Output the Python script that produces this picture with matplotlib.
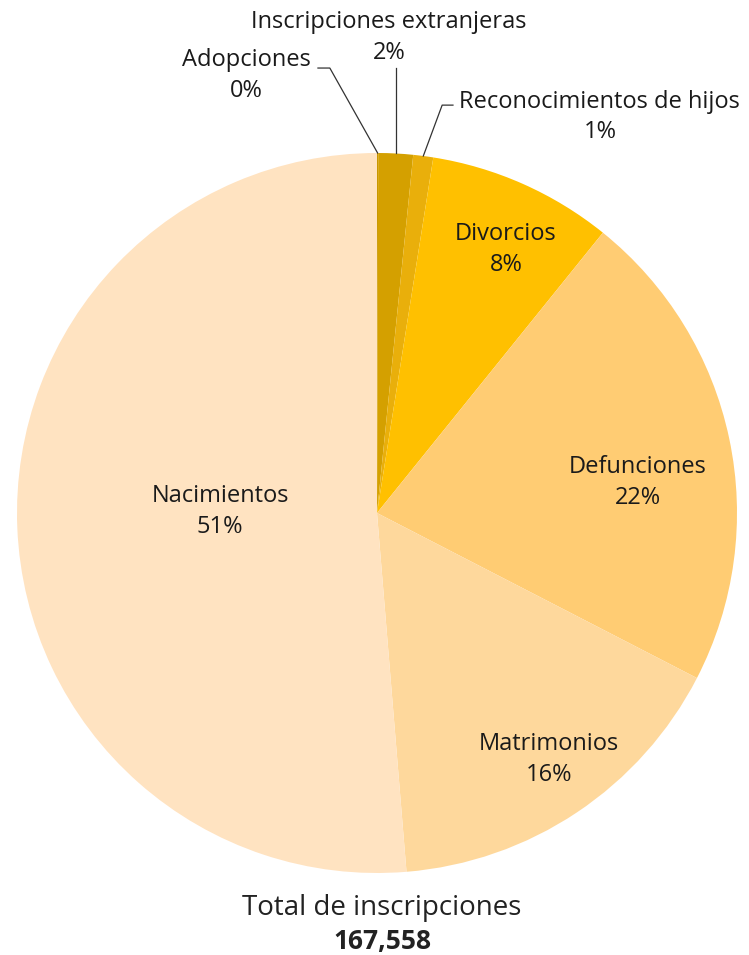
import numpy as np
import matplotlib.pyplot as plt

plt.rcParams['font.family'] = ['Open Sans', 'DejaVu Sans']

# data, clockwise from the top
categorias = ['Adopciones', 'Inscripciones extranjeras', 'Reconocimientos de hijos',
              'Divorcios', 'Defunciones', 'Matrimonios', 'Nacimientos']
valores = [90, 2600, 1500, 13900, 36500, 27000, 85968]
colores = ['#C99700', '#D4A000', '#E9AF0B', '#FFC000', '#FFCC73', '#FED89C', '#FFE3C1']
total = 167558

fig = plt.figure(figsize=(7.49, 9.55), dpi=100)
W, H = 749, 955
cx, cy, r = 377, 513, 360
ax = fig.add_axes([(cx - r) / W, (H - cy - r) / H, 2 * r / W, 2 * r / H])

wedges, _ = ax.pie(valores, colors=colores, startangle=90, counterclock=False,
                   radius=1, wedgeprops=dict(linewidth=0))
ax.set_xlim(-1, 1)
ax.set_ylim(-1, 1)
ax.set_aspect('equal')
ax.axis('off')

pct = [round(v / sum(valores) * 100) for v in valores]
fs = 17
gap = 0.043   # half the distance between name line and percent line
tc = '#1a1a1a'

# label places (axes data units, pie radius = 1)
pos = {'Divorcios': (0.358, 0.733), 'Defunciones': (0.725, 0.086),
       'Matrimonios': (0.478, -0.686), 'Nacimientos': (-0.436, 0.003),
       'Adopciones': (-0.364, 1.214), 'Inscripciones extranjeras': (0.033, 1.322),
       'Reconocimientos de hijos': (0.619, 1.1)}
for cat, p in zip(categorias, pct):
    x, y = pos[cat]
    ax.text(x, y + gap, cat, ha='center', va='center', fontsize=fs, color=tc)
    ax.text(x, y - gap, f'{p}%', ha='center', va='center', fontsize=fs, color=tc)

# leader lines for the small slices
def edge(i):
    ang = np.deg2rad((wedges[i].theta1 + wedges[i].theta2) / 2)
    return np.cos(ang), np.sin(ang)

lc = '#333333'
ex, ey = edge(0)
ax.plot([-0.164, -0.131, ex], [1.236, 1.236, ey], color=lc, lw=0.9, clip_on=False)
ex, ey = edge(1)
ax.plot([ex, ex], [1.236, ey], color=lc, lw=0.9, clip_on=False)
ex, ey = edge(2)
ax.plot([0.211, 0.181, ex], [1.133, 1.133, ey], color=lc, lw=0.9, clip_on=False)

fig.text(382 / W, 1 - 908 / H, 'Total de inscripciones', ha='center', va='center',
         fontsize=20, color='#222222')
fig.text(382 / W, 1 - 941 / H, f'{total:,}', ha='center', va='center',
         fontsize=19, fontweight='bold', color='#222222')

fig.savefig('out.png', dpi=100)
